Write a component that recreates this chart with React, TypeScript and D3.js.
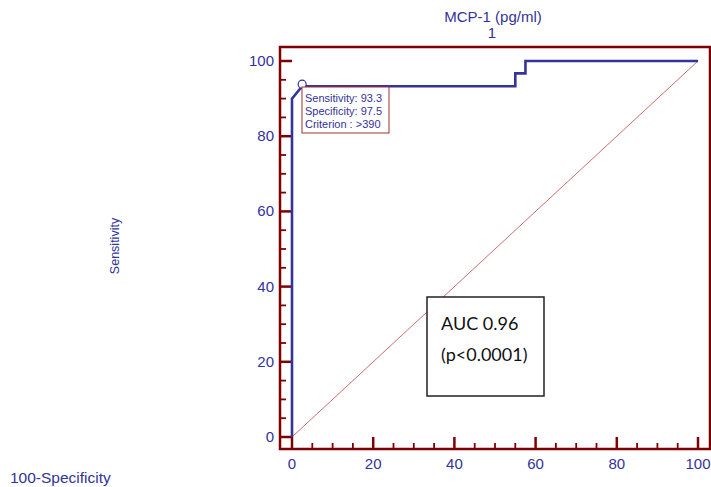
import React from "react";
import * as d3 from "d3";

const fpr = [0, 0, 2.5, 55, 55, 57.5, 57.5, 100];
const tpr = [0, 90, 93.3, 93.3, 96.7, 96.7, 100, 100];
const xTicks = [0, 20, 40, 60, 80, 100];
const yTicks = [0, 20, 40, 60, 80, 100];
const minorTicks = d3.range(0, 101, 5);
const cutPoint = { x: 2.5, y: 93.3 };
const cutLabels = ["Sensitivity: 93.3", "Specificity: 97.5", "Criterion : >390"];
const aucLabels = ["AUC 0.96", "(p<0.0001)"];

export default function App() {
  const W = 711, H = 487;
  const x = d3.scaleLinear().domain([0, 100]).range([292, 698]);
  const y = d3.scaleLinear().domain([0, 100]).range([437, 61]);
  const frame = { l: 280, t: 47, r: 710, b: 449 };
  const red = "#7f0000";
  const blue = "#33339a";
  const line = d3.line<number>().x((d, i) => x(fpr[i])).y((d, i) => y(tpr[i]));
  const font = "'Liberation Sans', Arial, sans-serif";
  return (
    <svg width={W} height={H} style={{ position: "absolute", left: 0, top: 0, background: "#fff" }}>
      <text x={493} y={22} textAnchor="middle" fontFamily={font} fontSize={15} fill={blue}>MCP-1 (pg/ml)</text>
      <text x={492} y={38} textAnchor="middle" fontFamily={font} fontSize={15} fill={blue}>1</text>
      {/* diagonal */}
      <line x1={x(0)} y1={y(0)} x2={x(100)} y2={y(100)} stroke="#c04848" strokeWidth={0.8} />
      {/* ticks */}
      {minorTicks.map((t) => {
        const major = t % 20 === 0;
        return (
          <g key={t}>
            <line x1={frame.l} x2={frame.l + (major ? 12 : 6)} y1={y(t)} y2={y(t)} stroke={red} strokeWidth={major ? 2.5 : 1.8} />
            <line y1={frame.b} y2={frame.b - (major ? 12 : 6)} x1={x(t)} x2={x(t)} stroke={red} strokeWidth={major ? 2.5 : 1.8} />
          </g>
        );
      })}
      <rect x={frame.l} y={frame.t} width={frame.r - frame.l} height={frame.b - frame.t} fill="none" stroke={red} strokeWidth={2.5} />
      {yTicks.map((t) => (
        <text key={t} x={274} y={y(t) + 5} textAnchor="end" fontFamily={font} fontSize={15} fill={blue}>{t}</text>
      ))}
      {xTicks.map((t) => (
        <text key={t} x={x(t)} y={469} textAnchor="middle" fontFamily={font} fontSize={15} fill={blue}>{t}</text>
      ))}
      <text transform="translate(119,246) rotate(-90)" textAnchor="middle" fontFamily={font} fontSize={12.5} fill={blue}>Sensitivity</text>
      <text x={10} y={483} fontFamily={font} fontSize={15.5} fill={blue}>100-Specificity</text>
      {/* ROC curve */}
      <path d={line(fpr) || ""} fill="none" stroke={blue} strokeWidth={2.6} strokeLinejoin="miter" />
      <circle cx={x(cutPoint.x)} cy={y(cutPoint.y) - 2} r={4} fill="#fff" stroke={blue} strokeWidth={1.2} />
      <rect x={302} y={87} width={87} height={46} fill="#fff" stroke="#a03030" strokeWidth={1} />
      {cutLabels.map((s, i) => (
        <text key={s} x={305} y={102 + i * 13} fontFamily={font} fontSize={11} fill={blue}>{s}</text>
      ))}
      {/* AUC box */}
      <rect x={427} y={297} width={117} height={99} fill="#fff" stroke="#222" strokeWidth={1.5} />
      {aucLabels.map((s, i) => (
        <text key={s} x={441} y={330 + i * 31} fontFamily="Lato, 'Open Sans', sans-serif" fontSize={18} fill="#111">{s}</text>
      ))}
    </svg>
  );
}
